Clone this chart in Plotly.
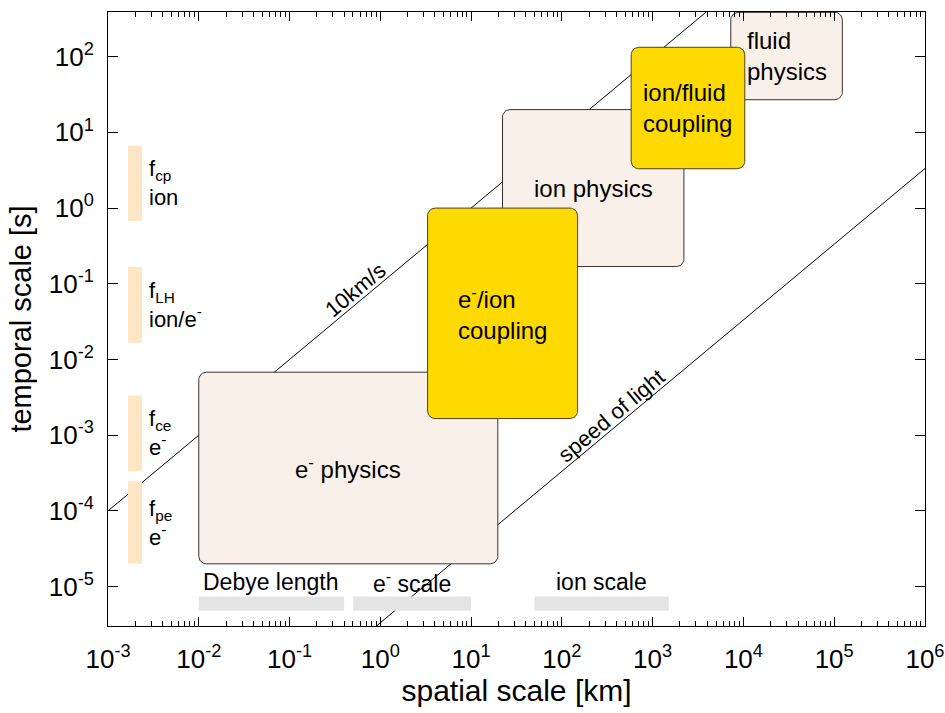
import numpy as np
import plotly.graph_objects as go

FONT = "Liberation Sans, Arial, Helvetica, sans-serif"

# ---- data (km, s) ----
x_range_log = [-3, 6]
y_range_log = [-5.52, 2.59]
x_tick_exp = [-3, -2, -1, 0, 1, 2, 3, 4, 5, 6]
y_tick_exp = [-5, -4, -3, -2, -1, 0, 1, 2]

line_x = [1e-3, 1e6]
speeds = [10.0, 3.0e5]              # km/s
speed_labels = ["10km/s", "speed of light"]
speed_label_x = [0.538, 355.0]
speed_label_y = [0.0834, 1.82e-3]

box_names = ["e<sup>-</sup> physics", "ion physics", "fluid<br>physics",
             "e<sup>-</sup>/ion<br>coupling", "ion/fluid<br>coupling"]
box_x0 = [1.0e-2, 22.2, 7260.0, 3.32, 580.0]
box_x1 = [19.7, 2210.0, 1.23e5, 149.0, 1.035e4]
box_y0 = [2.0e-5, 0.169, 27.0, 1.66e-3, 3.31]
box_y1 = [6.8e-3, 20.0, 385.0, 1.0, 133.0]
box_kind = ["pale", "pale", "pale", "yellow", "yellow"]

freq_names = ["f<sub>cp</sub><br>ion", "f<sub>LH</sub><br>ion/e<sup>-</sup>",
              "f<sub>ce</sub><br>e<sup>-</sup>", "f<sub>pe</sub><br>e<sup>-</sup>"]
freq_x0 = 1.66e-3
freq_x1 = 2.37e-3
freq_y0 = [0.673, 0.01663, 3.34e-4, 2.0e-5]
freq_y1 = [6.67, 0.1663, 3.35e-3, 2.47e-4]
freq_label_x = 2.67e-3

scale_names = ["Debye length", "e<sup>-</sup> scale", "ion scale"]
scale_x0 = [1.0e-2, 0.504, 50.0]
scale_x1 = [0.40, 10.0, 1507.0]
scale_y0 = 4.82e-6
scale_y1 = 7.38e-6
scale_label_y = 1.16e-5

# ---- layout geometry ----
W, H = 945, 713
ML, MR, MT, MB = 108, 20, 12, 87
px_per_dec_x = (W - ML - MR) / (x_range_log[1] - x_range_log[0])
px_per_dec_y = (H - MT - MB) / (y_range_log[1] - y_range_log[0])
R_PX = 7.5


def rounded_rect(x0, x1, y0, y1):
    lx0, lx1, ly0, ly1 = np.log10([x0, x1, y0, y1])
    rx = R_PX / px_per_dec_x
    ry = R_PX / px_per_dec_y
    xs, ys = [], []
    corners = [(lx1 - rx, ly1 - ry, 0), (lx0 + rx, ly1 - ry, 90),
               (lx0 + rx, ly0 + ry, 180), (lx1 - rx, ly0 + ry, 270)]
    for cx, cy, a0 in corners:
        t = np.radians(np.linspace(a0, a0 + 90, 10))
        xs.extend(cx + rx * np.cos(t))
        ys.extend(cy + ry * np.sin(t))
    xs.append(xs[0]); ys.append(ys[0])
    return 10 ** np.array(xs), 10 ** np.array(ys)


fig = go.Figure()

# velocity lines
for v in speeds:
    fig.add_trace(go.Scatter(x=line_x, y=[x / v for x in line_x], mode="lines",
                             line=dict(color="black", width=1), hoverinfo="skip",
                             showlegend=False))

# scale bars (gray)
for a, b in zip(scale_x0, scale_x1):
    fig.add_trace(go.Scatter(x=[a, b, b, a, a],
                             y=[scale_y0, scale_y0, scale_y1, scale_y1, scale_y0],
                             mode="lines", fill="toself", fillcolor="#E4E4E4",
                             line=dict(width=0, color="rgba(0,0,0,0)"),
                             hoverinfo="skip", showlegend=False))

# frequency bars (orange)
for a, b in zip(freq_y0, freq_y1):
    fig.add_trace(go.Scatter(x=[freq_x0, freq_x1, freq_x1, freq_x0, freq_x0],
                             y=[a, a, b, b, a],
                             mode="lines", fill="toself", fillcolor="#FFE7C5",
                             line=dict(width=0, color="rgba(0,0,0,0)"),
                             hoverinfo="skip", showlegend=False))

# physics boxes
styles = {"pale": ("#FAF0EA", "#333333"), "yellow": ("#FFDA00", "#4A4420")}
for x0, x1, y0, y1, k in zip(box_x0, box_x1, box_y0, box_y1, box_kind):
    xs, ys = rounded_rect(x0, x1, y0, y1)
    fc, lc = styles[k]
    fig.add_trace(go.Scatter(x=xs, y=ys, mode="lines", fill="toself", fillcolor=fc,
                             line=dict(color=lc, width=1), hoverinfo="skip",
                             showlegend=False))

ann = []
for name, x0, x1, y0, y1 in zip(box_names, box_x0, box_x1, box_y0, box_y1):
    ly1 = min(np.log10(y1), y_range_log[1])
    ann.append(dict(x=(np.log10(x0) + np.log10(x1)) / 2, y=(np.log10(y0) + ly1) / 2,
                    text=name, showarrow=False, align="left",
                    font=dict(size=24, color="black", family=FONT)))

for name, a, b in zip(freq_names, freq_y0, freq_y1):
    ann.append(dict(x=np.log10(freq_label_x), y=(np.log10(a) + np.log10(b)) / 2,
                    text=name, showarrow=False, align="left", xanchor="left",
                    font=dict(size=22, color="black", family=FONT)))

for name, a, b in zip(scale_names, scale_x0, scale_x1):
    ann.append(dict(x=(np.log10(a) + np.log10(b)) / 2, y=np.log10(scale_label_y),
                    text=name, showarrow=False,
                    font=dict(size=23, color="black", family=FONT)))

angle = np.degrees(np.arctan(px_per_dec_y / px_per_dec_x))
for name, lx, ly in zip(speed_labels, speed_label_x, speed_label_y):
    ann.append(dict(x=np.log10(lx), y=np.log10(ly), text=name, showarrow=False,
                    textangle=-angle,
                    font=dict(size=22, color="black", family=FONT)))

axis_common = dict(type="log", showgrid=False, automargin=False,
                   zeroline=False, showline=True, linecolor="black", linewidth=1,
                   mirror="ticks", ticks="inside", tickcolor="black",
                   tickfont=dict(size=26, color="black", family=FONT))

fig.update_layout(
    width=W, height=H, margin=dict(l=ML, r=MR, t=MT, b=MB),
    paper_bgcolor="white", plot_bgcolor="white",
    xaxis=dict(range=[x_range_log[0], x_range_log[1] + 0.0005], ticklen=9,
               ticklabelstandoff=10,
               tickvals=[10.0 ** e for e in x_tick_exp],
               ticktext=[f"10<sup>{e}</sup>" for e in x_tick_exp],
               minor=dict(ticks="inside", ticklen=5, dtick="D1", tickcolor="black",
                          showgrid=False),
               title=dict(text="spatial scale [km]", standoff=6,
                          font=dict(size=30, color="black", family=FONT)),
               **axis_common),
    yaxis=dict(range=y_range_log, ticklen=10, ticklabelstandoff=8,
               tickvals=[10.0 ** e for e in y_tick_exp],
               ticktext=[f"10<sup>{e}</sup>" for e in y_tick_exp],
               title=dict(text="temporal scale [s]", standoff=8,
                          font=dict(size=29, color="black", family=FONT)),
               **axis_common),
    annotations=ann,
)

fig.write_html("out.html")
